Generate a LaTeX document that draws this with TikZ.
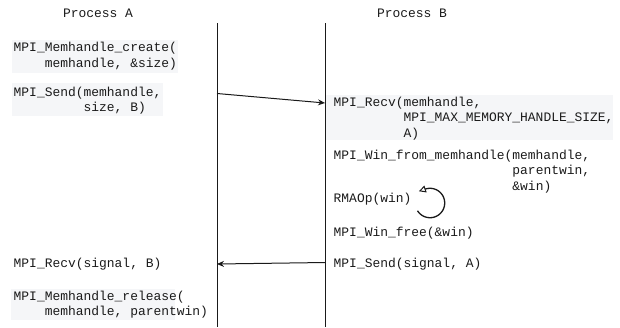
\documentclass[tikz,border=0pt]{standalone}
\usepackage{fontspec}
\newfontfamily\mono{Liberation Mono}
\usetikzlibrary{arrows.meta}
\definecolor{bggray}{HTML}{F5F6F8}
\definecolor{ink}{HTML}{1A1A1A}
\begin{document}
\begin{tikzpicture}[x=1pt,y=-1pt,
  code/.style={font=\mono\fontsize{12.95}{15.5}\selectfont, text=ink, align=left, inner sep=0pt, anchor=base west},
  title/.style={font=\mono\fontsize{12.95}{15.5}\selectfont, text=ink, inner sep=0pt, anchor=base},
  bg/.style={fill=bggray, draw=none},
  life/.style={draw=ink, line width=1pt},
  msg/.style={draw=ink, line width=1pt, -{Stealth[length=7pt,width=6pt]}},
  loop/.style={draw=ink, line width=1.3pt, -{Triangle[open,length=7pt,width=7pt,line width=1pt]}}]
\useasboundingbox (0,0) rectangle (620,327);
% backgrounds
\fill[bg] (12,40) rectangle (178,73);
\fill[bg] (12,83) rectangle (163,116);
\fill[bg] (326,95) rectangle (613,140);
\fill[bg] (11,289) rectangle (175,320);
% titles
\node[title] (pa) at (98,17) {Process A};
\node[title] (pb) at (412,17) {Process B};
% lifelines
\coordinate (atop) at (217,23);
\coordinate (abot) at (217,327);
\coordinate (btop) at (325,23);
\coordinate (bbot) at (325,327);
\draw[life] (atop) -- (abot);
\draw[life] (btop) -- (bbot);
% process A texts (base anchor = baseline of last line)
\node[code] (create) at (13.5,67) {MPI\_Memhandle\_create(\\~~~~memhandle, \&size)};
\node[code] (sendA) at (13.5,111.5) {MPI\_Send(memhandle,\\~~~~~~~~~size, B)};
\node[code] (recvA) at (13.5,267) {MPI\_Recv(signal, B)};
\node[code] (release) at (13.5,315.5) {MPI\_Memhandle\_release(\\~~~~memhandle, parentwin)};
% process B texts
\node[code] (recvB) at (333.5,137) {MPI\_Recv(memhandle,\\~~~~~~~~~MPI\_MAX\_MEMORY\_HANDLE\_SIZE,\\~~~~~~~~~A)};
\node[code] (winfrom) at (333.5,190) {MPI\_Win\_from\_memhandle(memhandle,\\~~~~~~~~~~~~~~~~~~~~~~~parentwin,\\~~~~~~~~~~~~~~~~~~~~~~~\&win)};
\node[code] (rma) at (333.5,202.5) {RMAOp(win)};
\node[code] (winfree) at (333.5,236) {MPI\_Win\_free(\&win)};
\node[code] (sendB) at (333.5,267) {MPI\_Send(signal, A)};
% messages
\coordinate (m1s) at (217,93.5);
\coordinate (m1e) at (325,103);
\coordinate (m2s) at (325,262.5);
\coordinate (m2e) at (217,264);
\draw[msg] (m1s) -- (m1e);
\draw[msg] (m2s) -- (m2e);
% self loop
\coordinate (loopc) at (430,203);
\draw[loop, shift={(loopc)}] plot[domain=148:-108, samples=60, smooth] ({14.7*cos(\x)},{14.7*sin(\x)}) -- ++(-6.6,2.2);
\end{tikzpicture}
\end{document}
